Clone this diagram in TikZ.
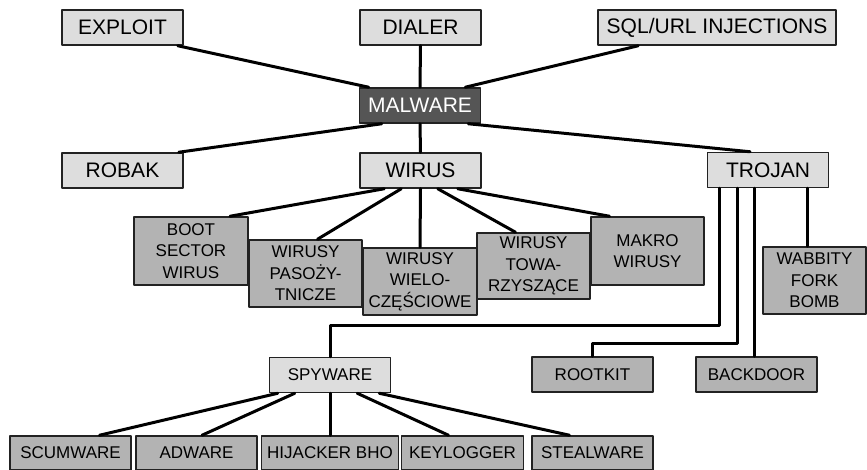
\documentclass[tikz,border=0pt]{standalone}
\usepackage{fontspec}
\setmainfont{Liberation Sans}
\usepackage{tikz}
\usepackage{xcolor}
\definecolor{boxlight}{HTML}{DDDDDD}
\definecolor{boxgray}{HTML}{B3B3B3}
\definecolor{boxdark}{HTML}{555555}
\definecolor{edge}{HTML}{222222}

\begin{document}
\begin{tikzpicture}[x=0.5pt, y=-0.5pt, line cap=round, line join=round,
  topbox/.style={draw=edge, line width=0.75pt, fill=boxlight, inner sep=0pt,
    minimum width=60.5pt, minimum height=17.5pt, font=\fontsize{10.5}{12}\selectfont},
  mainbox/.style={topbox, fill=boxdark, text=white},
  subbox/.style={draw=edge, line width=0.75pt, fill=boxgray, inner sep=0pt, align=center,
    minimum width=57pt, minimum height=34pt, font=\fontsize{8.5}{10.8}\selectfont},
  leafbox/.style={subbox, minimum height=17pt},
  link/.style={line width=1.5pt, black}]

% frame
\useasboundingbox (0,0) rectangle (867,470);

% top row
\node[topbox] (exploit) at (122.5,27.5) {EXPLOIT};
\node[topbox] (dialer) at (420.5,27.5) {DIALER};
\node[topbox, minimum width=119pt] (sql) at (717,27.5) {SQL/URL INJECTIONS};

% centre
\node[mainbox] (malware) at (420,105.5) {MALWARE};

% second row
\node[topbox] (robak) at (122.5,170.5) {ROBAK};
\node[topbox] (wirus) at (420.5,170.5) {WIRUS};
\node[topbox] (trojan) at (768,170) {TROJAN};

% kinds of virus
\node[subbox] (boot) at (191,251) {BOOT\\SECTOR\\WIRUS};
\node[subbox, minimum width=56.5pt, minimum height=33.5pt] (pasoz) at (305.5,273.5) {WIRUSY\\PASOŻY-\\TNICZE};
\node[subbox, minimum height=33.5pt] (wielo) at (420,281.5) {WIRUSY\\WIELO-\\CZĘŚCIOWE};
\node[subbox, minimum width=56.5pt, minimum height=33pt] (towa) at (533.5,266) {WIRUSY\\TOWA-\\RZYSZĄCE};
\node[subbox, minimum width=56.5pt] (makro) at (647.5,251) {MAKRO\\WIRUSY};

% trojan children
\node[subbox, minimum width=51.5pt, minimum height=33.5pt] (wabbity) at (814.5,280.5) {WABBITY\\FORK\\BOMB};
\node[topbox, font=\fontsize{8.5}{10.8}\selectfont] (spyware) at (330,375) {SPYWARE};
\node[leafbox, minimum width=60.5pt, minimum height=17.5pt] (rootkit) at (592.5,374.5) {ROOTKIT};
\node[leafbox, minimum width=60.5pt, minimum height=17.5pt] (backdoor) at (756.5,374.5) {BACKDOOR};

% spyware row
\node[leafbox, minimum width=60.5pt] (scum) at (70.5,453) {SCUMWARE};
\node[leafbox, minimum width=60.5pt] (adware) at (196.5,453) {ADWARE};
\node[leafbox, minimum width=68.5pt] (hijacker) at (330,453) {HIJACKER BHO};
\node[leafbox, minimum width=61pt] (keylogger) at (462.5,453) {KEYLOGGER};
\node[leafbox, minimum width=60.5pt] (stealware) at (592.5,453) {STEALWARE};

% bends of the trojan lines
\coordinate (spyturn) at (719,325);
\coordinate (rootturn) at (737,343);

% malware links
\draw[link] ([xshift=-3pt]exploit.south east) -- ([xshift=5pt]malware.north west);
\draw[link] (dialer.south) -- (malware.north);
\draw[link] ([xshift=20.5pt]sql.south west) -- ([xshift=-8pt]malware.north east);
\draw[link] ([xshift=-2.5pt]robak.north east) -- ([xshift=11.5pt]malware.south west);
\draw[link] (malware.south) -- (wirus.north);
\draw[link] ([xshift=-9pt]trojan.north) -- ([xshift=-6.5pt]malware.south east);

% wirus links
\draw[link] ([xshift=12.5pt]wirus.south west) -- ([xshift=19.5pt]boot.north);
\draw[link] ([xshift=21pt]wirus.south west) -- ([xshift=6pt]pasoz.north);
\draw[link] (wirus.south) -- (wielo.north);
\draw[link] ([xshift=-22pt]wirus.south east) -- ([xshift=-9pt]towa.north);
\draw[link] ([xshift=-12pt]wirus.south east) -- ([xshift=-19pt]makro.north);

% trojan links
\draw[link] ([xshift=-24.5pt]trojan.south) -- (spyturn) -| (spyware.north);
\draw[link] ([xshift=-15.5pt]trojan.south) -- (rootturn) -| (rootkit.north);
\draw[link] ([xshift=-7pt]trojan.south) -- ([xshift=-7pt]trojan.south |- backdoor.north);
\draw[link] ([xshift=19.5pt]trojan.south) -- ([xshift=19.5pt]trojan.south |- wabbity.north);

% spyware links
\draw[link] ([xshift=4.5pt]spyware.south west) -- ([xshift=14.5pt]scum.north);
\draw[link] ([xshift=13pt]spyware.south west) -- ([xshift=2.75pt]adware.north);
\draw[link] (spyware.south) -- (hijacker.north);
\draw[link] ([xshift=-17pt]spyware.south east) -- ([xshift=-7pt]keylogger.north);
\draw[link] ([xshift=-6pt]spyware.south east) -- ([xshift=-11.5pt]stealware.north);

\end{tikzpicture}
\end{document}
